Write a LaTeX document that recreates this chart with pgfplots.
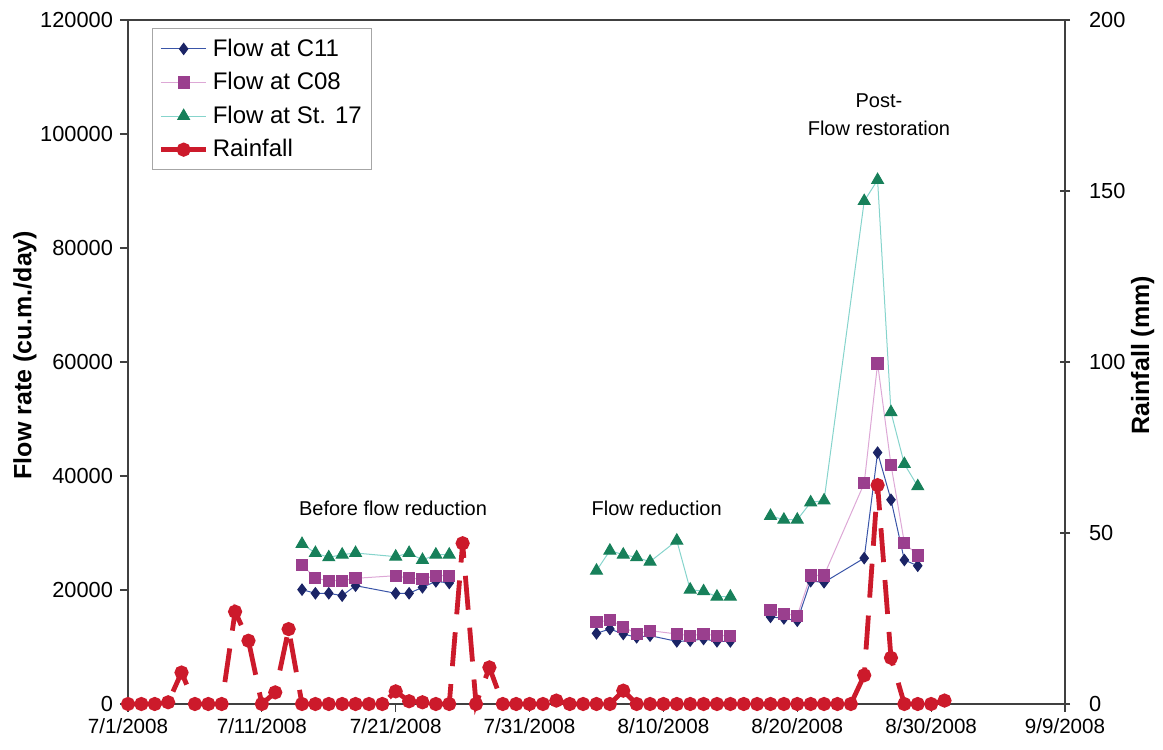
\documentclass[border=0pt]{standalone}
\usepackage{fontspec}
\setmainfont{Liberation Sans}
\usepackage{pgfplots}
\pgfplotsset{compat=1.18}

\definecolor{cElevenMark}{HTML}{1B2466}
\definecolor{cElevenLine}{HTML}{3A55A8}
\definecolor{cZeroMark}{HTML}{9A3F8E}
\definecolor{cZeroLine}{HTML}{DDA8D6}
\definecolor{stMark}{HTML}{17805A}
\definecolor{stLine}{HTML}{86D4CC}
\definecolor{rainRed}{HTML}{CC1A2B}
\definecolor{axisGray}{HTML}{404040}

\pgfplotsset{
  common/.style={
    width=468.5pt, height=342pt, scale only axis,
    xmin=0, xmax=70,
    axis line style={axisGray, line width=0.8pt},
    tick style={axisGray, line width=0.6pt},
    major tick length=4pt,
    xticklabel style={font=\fontsize{10.3}{12}\selectfont},
    yticklabel style={font=\fontsize{10.9}{12}\selectfont},
    /pgf/number format/assume math mode=true,
    /pgf/number format/.cd, fixed, 1000 sep={},
  },
  lg/.style={legend image code/.code={
    \draw[mark repeat=2, mark phase=2, ##1] plot coordinates {(0cm,0cm) (0.4cm,0cm) (0.8cm,0cm)};}},
}

\begin{document}
\begin{tikzpicture}
\path[use as bounding box] (-64pt,-23pt) rectangle (517.5pt,352pt);

% flows, left axis
\begin{axis}[
    common,
    ymin=0, ymax=120000,
    ytick={0,20000,...,120000},
    scaled y ticks=false,
    xtick={0,10,...,70},
    xticklabels={7/1/2008,7/11/2008,7/21/2008,7/31/2008,8/10/2008,8/20/2008,8/30/2008,9/9/2008},
    xtick pos=bottom, ytick pos=left,
    tick align=outside,
    unbounded coords=jump,
    ylabel={\bfseries Flow rate (cu.m./day)},
    ylabel style={font=\fontsize{12.5}{14}\selectfont, at={(axis description cs:-0.11,0.51)}, anchor=center},
  ]
  \addplot[cElevenLine, line width=0.5pt, mark=diamond*, mark size=2.8pt,
           mark options={cElevenMark, fill=cElevenMark}] coordinates {
    (13,20060) (14,19420) (15,19420) (16,19010) (17,20760)
    (20,19420) (21,19420) (22,20470) (23,21520) (24,21230)
    (30,nan)
    (35,12400) (36,13160) (37,12280) (38,11700) (39,11990)
    (41,10990) (42,11110) (43,11400) (44,10990) (45,10990)
    (46,nan)
    (48,15290) (49,15020) (50,14610) (51,21550) (52,21350)
    (55,25590) (56,44110) (57,35830) (58,25260) (59,24250)
  };
  \addplot[cZeroLine, line width=0.5pt, mark=square*, mark size=2.8pt,
           mark options={cZeroMark, fill=cZeroMark}] coordinates {
    (13,24440) (14,22050) (15,21640) (16,21640) (17,22050)
    (20,22510) (21,22050) (22,21930) (23,22510) (24,22510)
    (30,nan)
    (35,14330) (36,14740) (37,13570) (38,12280) (39,12870)
    (41,12280) (42,11990) (43,12280) (44,11990) (45,11990)
    (46,nan)
    (48,16500) (49,15830) (50,15490) (51,22560) (52,22560)
    (55,38730) (56,59740) (57,41960) (58,28290) (59,26060)
  };
  \addplot[stLine, line width=0.5pt, mark=triangle*, mark size=3.4pt,
           mark options={stMark, fill=stMark}] coordinates {
    (13,28070) (14,26490) (15,25730) (16,26200) (17,26490)
    (20,25850) (21,26490) (22,25260) (23,26200) (24,26200)
    (30,nan)
    (35,23390) (36,26900) (37,26200) (38,25730) (39,24970)
    (41,28660) (42,20060) (43,19770) (44,18830) (45,18830)
    (46,nan)
    (48,33000) (49,32330) (50,32330) (51,35360) (52,35700)
    (55,88230) (56,91930) (57,51190) (58,42090) (59,38190)
  };
  \node[font=\fontsize{10}{12}\selectfont] at (axis cs:19.8,34400) {Before flow reduction};
  \node[font=\fontsize{10}{12}\selectfont] at (axis cs:39.5,34400) {Flow reduction};
  \node[font=\fontsize{10}{12}\selectfont, align=center] at (axis cs:56.1,103300) {Post-\\[2pt]Flow restoration};
\end{axis}

% rainfall, right axis
\begin{axis}[
    common,
    ymin=0, ymax=200,
    ytick={0,50,...,200},
    axis x line=none,
    axis y line*=right,
    tick align=center,
    major tick length=5pt,
    yticklabel style={xshift=6pt},
    clip=false,
    ylabel={\bfseries Rainfall (mm)},
    ylabel style={font=\fontsize{12.5}{14}\selectfont, at={(axis description cs:1.083,0.51)}, anchor=center},
    legend style={at={(0.0256,0.988)}, anchor=north west, draw=gray!70, line width=0.5pt,
                  font=\fontsize{12}{13}\selectfont, row sep=2.6pt, inner sep=3pt},
    legend cell align=left,
  ]
  \addlegendimage{lg, cElevenLine, line width=0.5pt, mark=diamond*, mark size=2.8pt, mark options={cElevenMark, fill=cElevenMark}}
  \addlegendentry{Flow at C11}
  \addlegendimage{lg, cZeroLine, line width=0.5pt, mark=square*, mark size=2.8pt, mark options={cZeroMark, fill=cZeroMark}}
  \addlegendentry{Flow at C08}
  \addlegendimage{lg, stLine, line width=0.5pt, mark=triangle*, mark size=3.4pt, mark options={stMark, fill=stMark}}
  \addlegendentry{Flow at St. 17}
  \addlegendimage{lg, rainRed, line width=2.4pt, mark=*, mark size=2.3pt, mark options={rainRed}}
  \addlegendentry{Rainfall}
  \addplot[forget plot, rainRed, line width=2.4pt, dash pattern=on 17pt off 9pt,
           mark=*, mark size=2.3pt, mark options={solid, rainRed, fill=rainRed}] coordinates {
    (0,0) (1,0) (2,0) (3,0.5) (4,9.2) (5,0) (6,0) (7,0) (8,27) (9,18.5)
    (10,0) (11,3.4) (12,21.9) (13,0) (14,0) (15,0) (16,0) (17,0) (18,0) (19,0)
    (20,3.7) (21,0.8) (22,0.5) (23,0) (24,0) (25,47) (26,0) (27,10.7) (28,0) (29,0)
    (30,0) (31,0) (32,1) (33,0) (34,0) (35,0) (36,0) (37,3.9) (38,0) (39,0)
    (40,0) (41,0) (42,0) (43,0) (44,0) (45,0) (46,0) (47,0) (48,0) (49,0)
    (50,0) (51,0) (52,0) (53,0) (54,0) (55,8.4) (56,64) (57,13.5) (58,0) (59,0)
    (60,0) (61,1)
  };
\end{axis}
\end{tikzpicture}
\end{document}
